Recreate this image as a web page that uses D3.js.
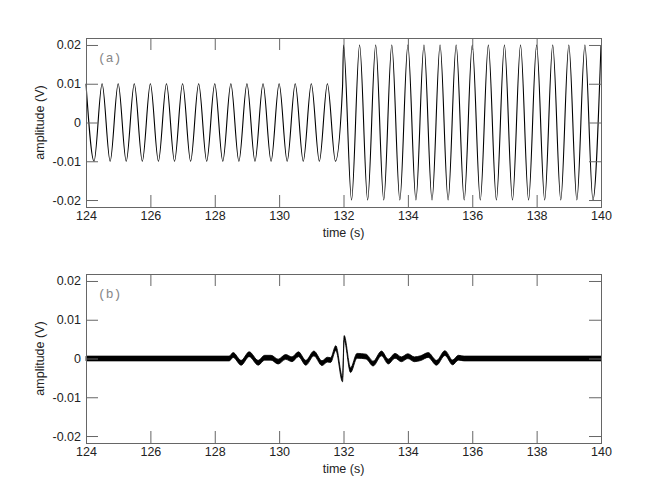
<!DOCTYPE html>
<html>
<head>
<meta charset="utf-8">
<script src="https://cdn.jsdelivr.net/npm/d3@7"></script>
<style>
  body { margin: 0; background: #fff; }
  svg { display: block; font-family: "Liberation Sans", Arial, sans-serif; }
  .tick text { font-size: 12.5px; fill: #222; }
  .tick line { stroke: #666; }
</style>
</head>
<body>
<svg id="chart"></svg>
<script>
// shared axis values
const timeTicks = [124, 126, 128, 130, 132, 134, 136, 138, 140]
const ampTicks = [-0.02, -0.01, 0, 0.01, 0.02]

// (a) input signal: extrema (2 Hz, 10 mV then 20 mV after t=132)
const sigTime = [
  124, 124.25, 124.5, 124.75, 125, 125.25, 125.5, 125.75,
  126, 126.25, 126.5, 126.75, 127, 127.25, 127.5, 127.75,
  128, 128.25, 128.5, 128.75, 129, 129.25, 129.5, 129.75,
  130, 130.25, 130.5, 130.75, 131, 131.25, 131.5, 131.75,
  131.97,
  132, 132.25, 132.5, 132.75, 133, 133.25, 133.5, 133.75,
  134, 134.25, 134.5, 134.75, 135, 135.25, 135.5, 135.75,
  136, 136.25, 136.5, 136.75, 137, 137.25, 137.5, 137.75,
  138, 138.25, 138.5, 138.75, 139, 139.25, 139.5, 139.75,
  140
]
const sigAmp = [
  0.01, -0.01, 0.01, -0.01, 0.01, -0.01, 0.01, -0.01,
  0.01, -0.01, 0.01, -0.01, 0.01, -0.01, 0.01, -0.01,
  0.01, -0.01, 0.01, -0.01, 0.01, -0.01, 0.01, -0.01,
  0.01, -0.01, 0.01, -0.01, 0.01, -0.01, 0.01, -0.01,
  0.0092,
  0.02, -0.02, 0.02, -0.02, 0.02, -0.02, 0.02, -0.02,
  0.02, -0.02, 0.02, -0.02, 0.02, -0.02, 0.02, -0.02,
  0.02, -0.02, 0.02, -0.02, 0.02, -0.02, 0.02, -0.02,
  0.02, -0.02, 0.02, -0.02, 0.02, -0.02, 0.02, -0.02,
  0.02
]

// (b) residual: key points
const resTime = [
  124, 128.45, 128.57, 128.82, 129.07, 129.35, 129.55, 129.75,
  129.97, 130.2, 130.4, 130.6, 130.83, 131.08, 131.33, 131.5,
  131.6, 131.76, 131.97, 132.02, 132.22, 132.42, 132.7, 132.92,
  133.18, 133.39, 133.6, 133.8, 134.0, 134.2, 134.4, 134.63,
  134.89, 135.15, 135.39, 135.57, 135.75, 140
]
const resAmp = [
  0, 0, 0.0009, -0.0011, 0.0011, -0.0011, 0.0002, 0.0002,
  -0.0008, 0.0004, -0.0002, 0.0011, -0.0011, 0.0013, -0.0012, -0.0003,
  -0.0004, 0.0027, -0.0054, 0.0053, -0.003, 0.0007, 0.0005, -0.0013,
  0.0013, -0.0008, 0.0007, -0.0002, 0.0006, -0.0002, 0.0001, 0.0009,
  -0.0011, 0.0014, -0.001, 0.0002, 0, 0
]

const width = 664, height = 498
const svg = d3.select("#chart").attr("width", width).attr("height", height)

const left = 86, right = 601
const panels = [
  { top: 38, bottom: 207, tag: "(a)" },
  { top: 274, bottom: 443, tag: "(b)" }
]

const x = d3.scaleLinear().domain([124, 140]).range([left, right])
const fmt = d => d === 0 ? "0" : d.toFixed(2)

panels.forEach(function(p, i){
  const y = d3.scaleLinear().domain([-0.0218, 0.0218]).range([p.bottom, p.top])
  const g = svg.append("g")

  // data
  if (i === 0) {
    const pts = sigTime.map((t, k) => [t, sigAmp[k]])
    const line = d3.line()
      .x(d => x(d[0]))
      .y(d => y(d[1]))
      .curve(d3.curveMonotoneX)
    g.append("path")
      .datum(pts)
      .attr("d", line)
      .attr("fill", "none")
      .attr("stroke", "#000")
      .attr("stroke-width", 1.1)
  } else {
    const pts = resTime.map((t, k) => [t, resAmp[k]])
    // noisy trace drawn as a band of constant vertical thickness
    const band = d3.area()
      .x(d => x(d[0]))
      .y0(d => y(d[1]) - 2.4)
      .y1(d => y(d[1]) + 2.4)
      .curve(d3.curveMonotoneX)
    g.append("path")
      .datum(pts)
      .attr("d", band)
      .attr("fill", "#000")
      .attr("stroke", "#000")
      .attr("stroke-width", 0.8)
  }

  // axes with inward ticks on all four sides
  g.append("g")
    .attr("transform", `translate(${left},0)`)
    .call(d3.axisLeft(y).tickValues(ampTicks).tickSize(-12).tickPadding(5).tickFormat(fmt))
  g.append("g")
    .attr("transform", `translate(${right},0)`)
    .call(d3.axisRight(y).tickValues(ampTicks).tickSize(-12).tickFormat(""))
  g.append("g")
    .attr("transform", `translate(0,${p.bottom})`)
    .call(d3.axisBottom(x).tickValues(timeTicks).tickSize(-12).tickPadding(4).tickFormat(d3.format("d")))
  g.append("g")
    .attr("transform", `translate(0,${p.top})`)
    .call(d3.axisTop(x).tickValues(timeTicks).tickSize(-12).tickFormat(""))
  g.selectAll(".domain").remove()

  g.append("rect")
    .attr("x", left + 0.5).attr("y", p.top + 0.5)
    .attr("width", right - left).attr("height", p.bottom - p.top)
    .attr("fill", "none")
    .attr("stroke", "#666")

  // panel tag
  g.append("text")
    .attr("x", 98).attr("y", p.top + 24)
    .attr("font-family", "'Liberation Mono', 'DejaVu Sans Mono', monospace")
    .attr("font-size", 13)
    .attr("fill", "#888")
    .text(p.tag)

  // axis titles
  g.append("text")
    .attr("transform", `translate(44,${(p.top + p.bottom) / 2}) rotate(-90)`)
    .attr("text-anchor", "middle")
    .attr("font-size", 12.5)
    .attr("fill", "#222")
    .text("amplitude (V)")
  g.append("text")
    .attr("x", (left + right) / 2).attr("y", p.bottom + 30)
    .attr("text-anchor", "middle")
    .attr("font-size", 12.5)
    .attr("fill", "#222")
    .text("time (s)")
})
</script>
</body>
</html>
